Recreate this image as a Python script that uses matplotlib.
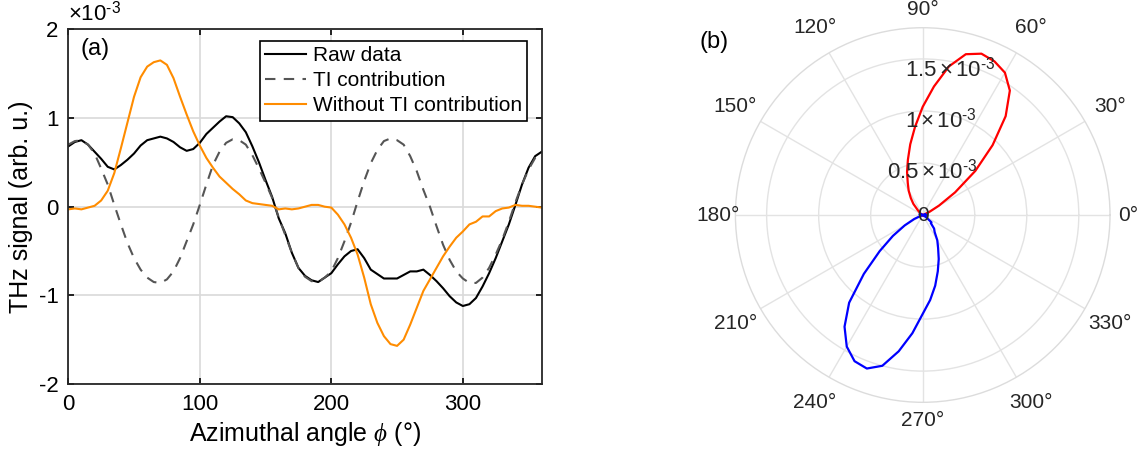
import numpy as np
import matplotlib
matplotlib.use("Agg")
import matplotlib.pyplot as plt
from matplotlib.ticker import FuncFormatter
from matplotlib.transforms import offset_copy

plt.rcParams['font.family'] = ['Liberation Sans', 'DejaVu Sans']
plt.rcParams['mathtext.fontset'] = 'custom'
plt.rcParams['mathtext.rm'] = 'Liberation Sans'
plt.rcParams['mathtext.it'] = 'Liberation Serif:italic'
plt.rcParams['axes.unicode_minus'] = False

# azimuthal angle (deg)
phi = np.arange(0, 361, 5)

# signals in units of 1e-3
raw = np.array([
    0.68, 0.73, 0.75, 0.70, 0.62, 0.54, 0.45, 0.42, 0.47, 0.53,
    0.60, 0.69, 0.75, 0.77, 0.79, 0.77, 0.73, 0.67, 0.63, 0.65,
    0.72, 0.82, 0.89, 0.96, 1.02, 1.01, 0.94, 0.84, 0.68, 0.50,
    0.30, 0.11, -0.13, -0.30, -0.52, -0.69, -0.78, -0.83, -0.85, -0.80,
    -0.75, -0.65, -0.56, -0.50, -0.48, -0.58, -0.71, -0.76, -0.81, -0.81,
    -0.81, -0.77, -0.73, -0.73, -0.71, -0.77, -0.84, -0.92, -1.01, -1.08,
    -1.12, -1.10, -1.03, -0.90, -0.75, -0.58, -0.39, -0.20, 0.02, 0.25,
    0.44, 0.57, 0.62])
ti = np.array([
    0.70, 0.74, 0.75, 0.70, 0.60, 0.43, 0.25, 0.02, -0.20, -0.41,
    -0.58, -0.71, -0.80, -0.85, -0.86, -0.82, -0.73, -0.58, -0.39, -0.20,
    0.02, 0.25, 0.47, 0.62, 0.72, 0.76, 0.75, 0.70, 0.58, 0.43,
    0.27, 0.10, -0.12, -0.32, -0.52, -0.69, -0.79, -0.84, -0.85, -0.80,
    -0.73, -0.58, -0.39, -0.18, 0.06, 0.29, 0.49, 0.64, 0.74, 0.77,
    0.75, 0.70, 0.57, 0.40, 0.19, 0.00, -0.22, -0.43, -0.60, -0.73,
    -0.81, -0.86, -0.86, -0.80, -0.69, -0.54, -0.37, -0.17, 0.05, 0.25,
    0.42, 0.55, 0.62])
no_ti = np.array([
    -0.03, -0.02, -0.03, -0.01, 0.01, 0.07, 0.18, 0.38, 0.66, 0.95,
    1.24, 1.46, 1.58, 1.63, 1.65, 1.60, 1.45, 1.24, 1.04, 0.85,
    0.69, 0.55, 0.44, 0.34, 0.27, 0.20, 0.14, 0.07, 0.04, 0.03,
    0.02, 0.01, -0.03, -0.02, -0.03, -0.02, 0.00, 0.02, 0.02, 0.00,
    -0.01, -0.09, -0.20, -0.35, -0.54, -0.80, -1.10, -1.31, -1.46, -1.55,
    -1.57, -1.50, -1.33, -1.14, -0.95, -0.82, -0.69, -0.56, -0.45, -0.35,
    -0.28, -0.20, -0.17, -0.11, -0.11, -0.05, -0.02, -0.01, 0.02, 0.01,
    0.01, 0.00, -0.01])

labels = ["Raw data", "TI contribution", "Without TI contribution"]
r_ticks = [0.5e-3, 1e-3, 1.5e-3]
r_ticklabels = [r'$0.5\times10^{\text{-3}}$', r'$1\times10^{\text{-3}}$', r'$1.5\times10^{\text{-3}}$']
r_max = 1.8e-3
theta_ticks = np.arange(0, 360, 30)

fig = plt.figure(figsize=(11.4, 4.59), dpi=100)

# (a) azimuthal dependence
ax = fig.add_axes([0.0599, 0.1634, 0.4153, 0.7726])
ax.plot(phi, raw * 1e-3, color='black', lw=1.5, label=labels[0])
ax.plot(phi, ti * 1e-3, color='#555555', lw=1.5, ls=(0, (5, 4)), label=labels[1])
ax.plot(phi, no_ti * 1e-3, color='#ff8c00', lw=1.5, label=labels[2])
ax.set_xlim(0, 360)
ax.set_ylim(-2e-3, 2e-3)
ax.set_xticks([0, 100, 200, 300])
ax.set_yticks([-2e-3, -1e-3, 0, 1e-3, 2e-3])
ax.yaxis.set_major_formatter(FuncFormatter(lambda v, p: '%g' % round(v * 1e3, 6)))
ax.text(0.0, 1.012, r'$\times10^{\text{-3}}$', transform=ax.transAxes, fontsize=16,
        ha='left', va='bottom')
ax.grid(True, color='#d9d9d9', lw=1.2)
ax.set_axisbelow(True)
ax.tick_params(direction='in', length=4, width=1.2, labelsize=16, top=True, right=True, pad=7)
for s in ax.spines.values():
    s.set_linewidth(1.3)
    s.set_color('#262626')
ax.set_xlabel(r'Azimuthal angle $\phi$ (°)', fontsize=18, labelpad=4)
ax.set_ylabel('THz signal (arb. u.)', fontsize=18, labelpad=4)
ax.text(0.025, 0.975, '(a)', transform=ax.transAxes, fontsize=17, va='top')
leg = ax.legend(loc='upper right', bbox_to_anchor=(0.969, 0.968), borderaxespad=0,
                fontsize=15, handlelength=2.0, handletextpad=0.3, labelspacing=0.3,
                borderpad=0.25, fancybox=False, framealpha=1)
leg.get_frame().set_edgecolor('black')
leg.get_frame().set_linewidth(1.2)

# (b) polar plot of the signal without TI contribution
pax = fig.add_axes([0.6451, 0.1235, 0.3286, 0.8161], projection='polar')
theta = np.deg2rad(phi)
pos = np.clip(no_ti, 0, None) * 1e-3
neg = np.clip(-no_ti, 0, None) * 1e-3
pax.plot(theta, pos, color='red', lw=1.6)
pax.plot(theta, neg, color='blue', lw=1.6)
pax.set_ylim(0, r_max)
pax.set_rgrids(r_ticks, labels=[''] * len(r_ticks))
pax.set_thetagrids(theta_ticks, labels=[''] * len(theta_ticks))
pax.grid(True, color='#e3e3e3', lw=1.0)
pax.spines['polar'].set_color('#dcdcdc')
pax.spines['polar'].set_linewidth(1.0)

# angle labels centred just outside the plot; the axis ones sit a bit closer
for t in theta_ticks:
    rr = 1.095 if t % 90 == 0 else 1.155
    pax.text(np.deg2rad(t), rr * r_max, '%d°' % t, fontsize=15,
             ha='center', va='center', color='#262626', clip_on=False)

# radial labels along the 80 deg direction, hanging just under each ring
below = offset_copy(pax.transData, fig=fig, x=0, y=-15, units='dots')
for r, lab in zip(r_ticks, r_ticklabels):
    pax.text(np.deg2rad(80), r, lab, fontsize=16, ha='center', va='baseline',
             color='#262626', transform=below)
pax.text(0, 0, '0', fontsize=15, ha='center', va='center', color='#262626')
fig.text(0.614, 0.895, '(b)', fontsize=17)

fig.savefig('out.png', dpi=100)
